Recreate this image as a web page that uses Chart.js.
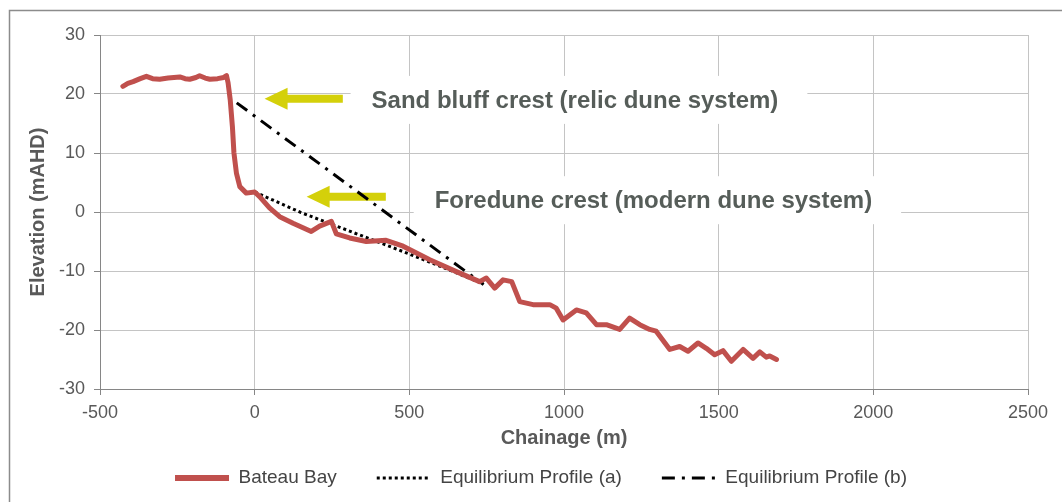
<!DOCTYPE html>
<html>
<head>
	<title>Bateau Bay profile</title>
	<script src="https://cdn.jsdelivr.net/npm/chart.js@4.4.1/dist/chart.umd.min.js"></script>
	<style>
		html, body { margin: 0; padding: 0; background: #fff; }
		#wrap { width: 1062px; height: 502px; }
	</style>
</head>
<body>
	<div id="wrap"><canvas id="chart1"></canvas></div>
	<script type="text/javascript">
		// survey profile
		var bateauX = [-426, -410, -393, -370, -350, -330, -307, -280, -242, -225, -210, -190, -178, -160, -145, -120, -100, -91,
			-86, -79, -72, -67, -59, -48, -27, 0, 16, 48, 81, 124, 183, 210, 248, 264, 307, 361, 425, 480, 566, 652,
			727, 749, 776, 803, 831, 857, 900, 954, 975, 997, 1040, 1072, 1105, 1137, 1180, 1212, 1245, 1277, 1298,
			1342, 1374, 1401, 1433, 1460, 1487, 1514, 1541, 1579, 1611, 1633, 1654, 1665, 1687];
		var bateauY = [21.3, 21.8, 22.1, 22.6, 23.0, 22.6, 22.5, 22.7, 22.9, 22.6, 22.5, 22.8, 23.1, 22.7, 22.5, 22.6, 22.8, 23.1,
			21.9, 19.0, 14.5, 10.0, 6.6, 4.3, 3.2, 3.4, 2.6, 0.7, -0.8, -1.9, -3.3, -2.4, -1.6, -3.7, -4.4, -5.0, -4.8, -5.8, -8.1, -10.1,
			-11.8, -11.2, -12.9, -11.5, -11.8, -15.2, -15.7, -15.7, -16.3, -18.3, -16.6, -17.1, -19.1, -19.1, -19.9, -18.0, -19.1, -19.9, -20.2,
			-23.3, -22.8, -23.6, -22.2, -23.1, -24.2, -23.5, -25.3, -23.3, -24.8, -23.7, -24.6, -24.4, -25.0];

		var eqAX = [0, 150, 300, 450, 600, 740];
		var eqAY = [3.4, -0.1, -3.1, -6.1, -9.2, -12.2];

		var eqBX = [-58, 740];
		var eqBY = [18.5, -12.3];

		var seriesNames = ['Bateau Bay', 'Equilibrium Profile (a)', 'Equilibrium Profile (b)'];
		var xTicks = [-500, 0, 500, 1000, 1500, 2000, 2500];
		var yTicks = [-30, -20, -10, 0, 10, 20, 30];

		var notes = ['Sand bluff crest (relic dune system)', 'Foredune crest (modern dune system)'];

		function toPoints(xs, ys) {
			return xs.map(function(x, i) { return {x: x, y: ys[i]}; });
		}

		// where the callouts sit, in axis units
		var noteLayout = [
			{textX: 378, textY: 19.0, tipX: 32, tailX: 285, arrowY: 19.2},
			{textX: 582, textY: 2.0, tipX: 168, tailX: 424, arrowY: 2.6}
		];

		var FONT = "'Liberation Sans', Arial, sans-serif";

		var framePlugin = {
			id: 'frame',
			beforeDraw: function(chart) {
				var ctx = chart.ctx;
				ctx.save();
				ctx.fillStyle = '#fff';
				ctx.fillRect(0, 0, chart.width, chart.height);
				ctx.strokeStyle = '#8c8c8c';
				ctx.lineWidth = 1.5;
				ctx.strokeRect(9.5, 10.5, chart.width + 20, chart.height + 20);
				ctx.restore();
			},
			afterLayout: function(chart) {
				// sit the legend where the original puts it
				var lg = chart.legend;
				var dx = 541 - (lg.left + lg.right) / 2;
				lg.top = 428.5;
				lg.bottom = chart.height;
				lg.left += dx; lg.right += dx;
			}
		};

		var notesPlugin = {
			id: 'notes',
			beforeDatasetsDraw: function(chart) {
				var ctx = chart.ctx;
				var xs = chart.scales.x, ys = chart.scales.y;
				ctx.save();
				ctx.font = 'bold 24px ' + FONT;
				notes.forEach(function(txt, i) {
					var L = noteLayout[i];
					var tx = xs.getPixelForValue(L.textX);
					var ty = ys.getPixelForValue(L.textY);
					var w = ctx.measureText(txt).width;
					ctx.fillStyle = '#fff';
					ctx.fillRect(tx - 21, ty - 24, w + 50, 48);
					ctx.fillStyle = '#565d59';
					ctx.textBaseline = 'middle';
					ctx.fillText(txt, tx, ty + 1);

					// yellow arrow pointing left
					var tip = xs.getPixelForValue(L.tipX);
					var tail = xs.getPixelForValue(L.tailX);
					var ay = ys.getPixelForValue(L.arrowY);
					ctx.fillStyle = '#d4d00a';
					ctx.beginPath();
					ctx.moveTo(tip, ay);
					ctx.lineTo(tip + 23, ay - 11);
					ctx.lineTo(tip + 23, ay - 4);
					ctx.lineTo(tail, ay - 4);
					ctx.lineTo(tail, ay + 4);
					ctx.lineTo(tip + 23, ay + 4);
					ctx.lineTo(tip + 23, ay + 11);
					ctx.closePath();
					ctx.fill();
				});
				ctx.restore();
			}
		};

		var ctx1 = document.getElementById('chart1');
		var chart1 = new Chart(ctx1, {
			type: 'line',
			data: {
				datasets: [{
					label: seriesNames[0],
					data: toPoints(bateauX, bateauY),
					borderColor: '#c0504d',
					backgroundColor: '#c0504d',
					borderWidth: 5,
					borderJoinStyle: 'round',
					borderCapStyle: 'round',
					pointRadius: 0
				}, {
					label: seriesNames[1],
					data: toPoints(eqAX, eqAY),
					borderColor: '#000',
					backgroundColor: '#000',
					borderWidth: 3,
					borderDash: [3, 3],
					pointRadius: 0
				}, {
					label: seriesNames[2],
					data: toPoints(eqBX, eqBY),
					borderColor: '#000',
					backgroundColor: '#000',
					borderWidth: 3,
					borderDash: [13, 7, 3, 7],
					pointRadius: 0
				}]
			},
			options: {
				responsive: true,
				maintainAspectRatio: false,
				animation: false,
				layout: { padding: { left: 0, top: 35, right: 34, bottom: 0 } },
				plugins: {
					tooltip: { enabled: false },
					legend: {
						position: 'bottom',
						maxHeight: 51,
						labels: {
							usePointStyle: true,
							pointStyleWidth: 54,
							boxHeight: 10,
							padding: 40,
							color: '#444',
							font: { family: FONT, size: 19 },
							generateLabels: function(chart) {
								return chart.data.datasets.map(function(ds, i) {
									return {
										text: ds.label,
										fillStyle: ds.borderColor,
										strokeStyle: ds.borderColor,
										lineWidth: ds.borderWidth + (i === 0 ? 1 : 0),
										lineDash: ds.borderDash || [],
										lineCap: 'butt',
										pointStyle: 'line',
										hidden: false,
										fontColor: '#444',
										datasetIndex: i
									};
								});
							}
						}
					}
				},
				scales: {
					x: {
						type: 'linear',
						min: -500,
						max: 2500,
						afterBuildTicks: function(s) { s.ticks = xTicks.map(function(v) { return {value: v}; }); },
						afterFit: function(s) { s.height = 62; },
						grid: { color: '#c4c4c4', tickColor: '#868686', tickLength: 6 },
						border: { color: '#868686' },
						ticks: { color: '#595959', font: { family: FONT, size: 18 }, padding: 7, maxRotation: 0,
							callback: function(v) { return String(v); } },
						title: { display: true, text: 'Chainage (m)', color: '#595959',
							font: { family: FONT, size: 20, weight: 'bold' }, padding: { top: 0, bottom: 1 } }
					},
					y: {
						min: -30,
						max: 30,
						afterBuildTicks: function(s) { s.ticks = yTicks.map(function(v) { return {value: v}; }); },
						afterFit: function(s) { s.width = 100; },
						grid: { color: '#c4c4c4', tickColor: '#868686', tickLength: 6 },
						border: { color: '#868686' },
						ticks: { color: '#595959', font: { family: FONT, size: 18 }, padding: 9,
							callback: function(v) { return String(v); } },
						title: { display: true, text: 'Elevation (mAHD)', color: '#595959',
							font: { family: FONT, size: 20, weight: 'bold' }, padding: { top: 26, bottom: 0 } }
					}
				}
			},
			plugins: [framePlugin, notesPlugin]
		});
	</script>
</body>
</html>
